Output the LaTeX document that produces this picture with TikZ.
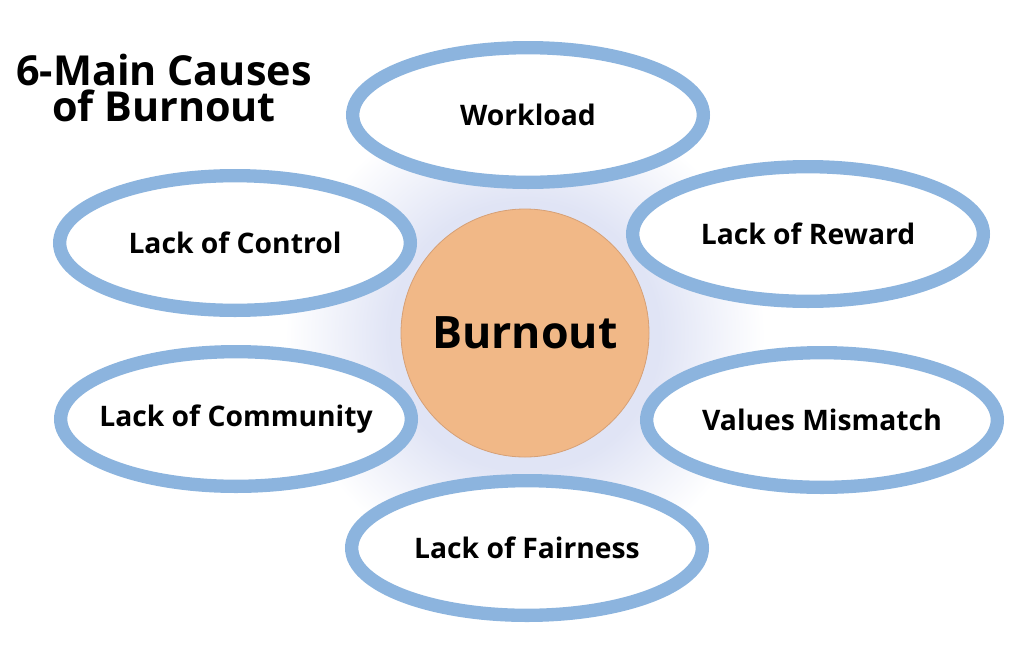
\documentclass[tikz,border=0pt]{standalone}
\usepackage{fontspec}
\setmainfont{Open Sans}
\usepackage{tikz}
\usetikzlibrary{shapes,arrows}
\usetikzlibrary{shapes.geometric}
\usetikzlibrary{fit,backgrounds,positioning}
\definecolor{ringblue}{RGB}{140,180,222}
\definecolor{peach}{RGB}{241,184,135}
\definecolor{peachline}{RGB}{214,160,118}
\definecolor{haloblue}{RGB}{224,228,245}
\pgfdeclareradialshading{halo}{\pgfpoint{0bp}{0bp}}{color(0bp)=(haloblue); color(14bp)=(haloblue); color(25bp)=(white); color(50bp)=(white)}
\tikzstyle{cause} = [ellipse, draw=ringblue, line width=10pt, fill=white,
minimum width=263pt, minimum height=101pt, inner sep=0pt]
\tikzstyle{causetext} = [font=\bfseries\fontsize{21.2}{25}\selectfont, inner sep=0pt]
\tikzstyle{core} = [circle, draw=peachline, line width=0.6pt, fill=peach,
minimum size=186pt, inner sep=0pt, font=\bfseries\fontsize{33.5}{38}\selectfont]

\begin{document}
\begin{tikzpicture}[x=0.75pt, y=-0.75pt]
	\useasboundingbox (0,0) rectangle (1024,668);
	
	% soft halo behind the centre
	\shade[shading=halo] (525,336) circle (240);
	
	\node [core] (burn) at (525,333) {Burnout};
	
	% the six causes
	\node [cause, label={[causetext]center:Workload}] (work) at (528,115) {};
	\node [cause, label={[causetext]center:Lack of Control}] (control) at (235,243) {};
	\node [cause, label={[causetext]center:Lack of Reward}] (reward) at (808,234) {};
	\node [cause, label={[causetext]center:Lack of Community}] (community) at (236,419) {};
	\node [cause, label={[causetext]center:Values Mismatch}] (values) at (822,420) {};
	\node [cause, label={[causetext]center:Lack of Fairness}] (fair) at (527,548) {};
	
	% title
	\node [align=center, font=\bfseries\fontsize{31}{27.5}\selectfont, inner sep=0pt] (title) at (164,88) {6-Main Causes\\of Burnout};
	
\end{tikzpicture}
\end{document}
